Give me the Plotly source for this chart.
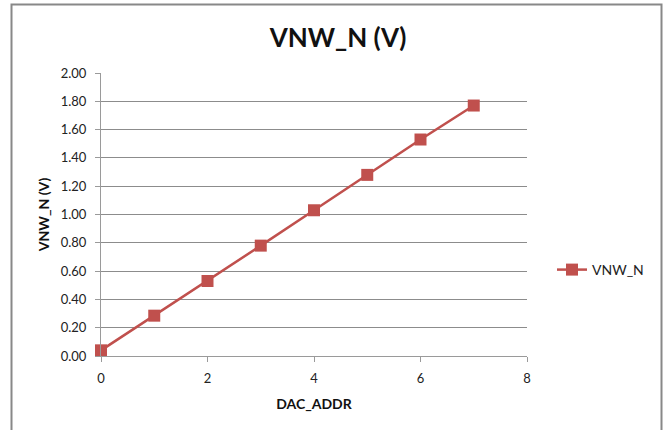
import plotly.graph_objects as go

dac_addr = [0, 1, 2, 3, 4, 5, 6, 7]
vnw_n = [0.04, 0.285, 0.53, 0.78, 1.03, 1.28, 1.53, 1.77]
x_ticks = [0, 2, 4, 6, 8]
y_ticks = [0.0, 0.2, 0.4, 0.6, 0.8, 1.0, 1.2, 1.4, 1.6, 1.8, 2.0]

FONT = "Lato, 'Open Sans', sans-serif"
RED = "#C0504D"

fig = go.Figure()
fig.add_trace(go.Scatter(
    x=dac_addr, y=vnw_n, name="VNW_N", mode="lines+markers",
    line=dict(color=RED, width=2.5),
    marker=dict(symbol="square", size=12, color=RED),
    cliponaxis=False,
))

W, H = 663, 430
L, R, T, B = 101, 136, 73, 74
pw, ph = W - L - R, H - T - B

def px(x):
    return (x - L) / pw

def py(y):
    return (H - B - y) / ph

fig.update_layout(
    width=W, height=H,
    margin=dict(l=L, r=R, t=T, b=B),
    paper_bgcolor="white", plot_bgcolor="white",
    font=dict(family=FONT, size=12, color="#333333"),
    title=dict(text="<b>VNW_N (V)</b>", xref="container", x=338 / W, xanchor="center",
               yref="container", y=1 - 38 / H, yanchor="middle",
               font=dict(size=26, color="#111111", family=FONT)),
    showlegend=True,
    legend=dict(x=px(552), y=py(270), xanchor="left", yanchor="middle",
                font=dict(size=14, color="#222222"), bgcolor="rgba(0,0,0,0)",
                itemwidth=30),
    xaxis=dict(range=[0, 8], tickvals=x_ticks, ticktext=[str(v) for v in x_ticks],
               showgrid=False, zeroline=False, showline=True, linecolor="#9a9a9a",
               linewidth=1, ticks="outside", ticklen=5, tickcolor="#9a9a9a",
               ticklabelstandoff=5,
               tickfont=dict(size=13, color="#222222"),
               title=dict(text="<b>DAC_ADDR</b>", font=dict(size=14, color="#111111"), standoff=14)),
    yaxis=dict(range=[0, 2.0], tickvals=y_ticks, ticktext=[f"{v:.2f}" for v in y_ticks],
               showgrid=True, gridcolor="#8c8c8c", gridwidth=1, zeroline=False,
               showline=True, linecolor="#9a9a9a", linewidth=1,
               ticks="outside", ticklen=5, tickcolor="#9a9a9a",
               ticklabelstandoff=6,
               tickfont=dict(size=13, color="#222222"),
               title=dict(text="<b>VNW_N (V)</b>", font=dict(size=14, color="#111111"), standoff=7)),
    shapes=[dict(type="rect", xref="paper", yref="paper",
                 x0=px(11.5), x1=px(661.5), y0=py(445), y1=py(4.5),
                 line=dict(color="#888888", width=2), fillcolor="rgba(0,0,0,0)", layer="below")],
)

fig.write_html("out.html")
